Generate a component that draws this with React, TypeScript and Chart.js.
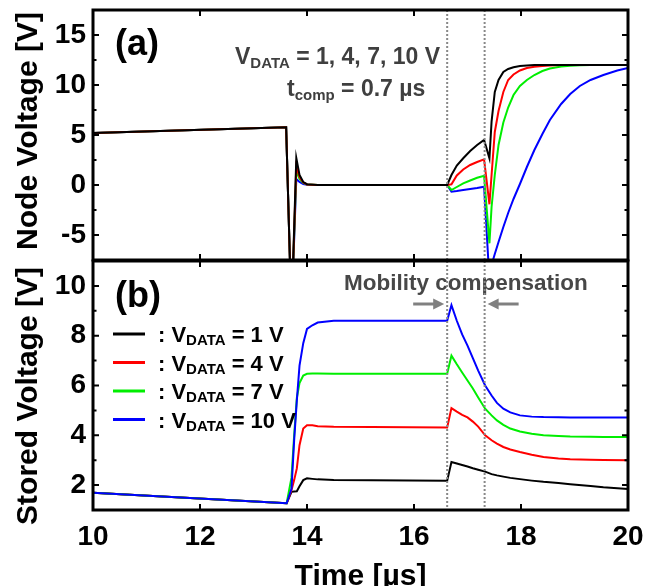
import { useEffect, useRef } from "react";
import { Chart, registerables } from "chart.js";

Chart.register(...registerables);

const FONT = '"Liberation Sans", Arial, Helvetica, sans-serif';

// ---- time axis (µs) ----
const timeTicks = [10, 12, 14, 16, 18, 20];
const compStart = 16.62; // mobility compensation window (t_comp = 0.7 µs)
const compEnd = 17.32;

// ---- (a) node voltage ----
const nodeTime = [
  10, 13.61, 13.71, 13.8, 13.86, 13.93, 14.0, 14.2, 16.62, 16.7, 16.8, 16.92,
  17.05, 17.18, 17.31, 17.41, 17.45, 17.51, 17.58, 17.67, 17.76, 17.86, 17.98,
  18.11, 18.25, 18.4, 18.54, 18.75, 18.92, 19.1, 19.3, 19.54, 19.8, 20,
];
const nodeV1 = [
  5.2, 5.77, -13, 2.7, 1.0, 0.3, 0.08, 0, 0, 1.0, 1.95, 2.67, 3.4, 4.0, 4.5,
  2.67, 6.33, 9.3, 10.5, 11.3, 11.6, 11.78, 11.9, 11.95, 12, 12, 12, 12, 12, 12,
  12, 12, 12, 12,
];
const nodeV4 = [
  5.2, 5.77, -13, 1.9, 0.8, 0.25, 0.06, 0, 0, 0.07, 0.95, 1.55, 2.0, 2.3, 2.57,
  -1.93, 1.0, 5.3, 7.4, 9.3, 10.5, 11.05, 11.45, 11.7, 11.82, 11.9, 11.95, 12,
  12, 12, 12, 12, 12, 12,
];
const nodeV7 = [
  5.2, 5.77, -13, 1.4, 0.6, 0.2, 0.05, 0, 0, -0.5, -0.2, 0.17, 0.45, 0.72, 0.93,
  -5.83, -2.2, 1.0, 4.0, 6.25, 7.75, 9.0, 9.9, 10.5, 11.0, 11.4, 11.65, 11.85,
  11.93, 11.97, 12, 12, 12, 12,
];
const nodeV10 = [
  5.2, 5.77, -13, 0.6, 0.3, 0.1, 0.03, 0, 0, -0.67, -0.6, -0.5, -0.4, -0.3,
  -0.17, -9.5, -8.0, -6.9, -5.7, -4.2, -2.8, -1.4, 0.1, 1.8, 3.5, 5.1, 6.5, 8.1,
  9.1, 9.9, 10.5, 11.0, 11.45, 11.7,
];
const nodeMajor = [-5, 0, 5, 10, 15];
const nodeMinor = [-2.5, 2.5, 7.5, 12.5];

// ---- (b) stored voltage ----
const storedTime = [
  10, 13.62, 13.71, 13.76, 13.81, 13.86, 13.93, 14.0, 14.1, 14.2, 14.5, 16.62,
  16.7, 16.8, 16.9, 17.0, 17.1, 17.2, 17.33, 17.45, 17.55, 17.67, 17.8, 17.98,
  18.2, 18.42, 18.7, 18.92, 19.3, 19.54, 20,
];
const storedV1 = [
  1.69, 1.27, 1.73, 1.74, 1.75, 1.95, 2.2, 2.27, 2.25, 2.23, 2.2, 2.17, 2.93,
  2.87, 2.81, 2.75, 2.68, 2.62, 2.54, 2.44, 2.39, 2.34, 2.29, 2.24, 2.18, 2.13,
  2.08, 2.03, 1.96, 1.91, 1.84,
];
const storedV4 = [
  1.69, 1.27, 1.8, 2.2, 2.67, 3.6, 4.27, 4.4, 4.4, 4.36, 4.34, 4.31, 5.09, 4.95,
  4.82, 4.72, 4.55, 4.35, 4.0, 3.8, 3.67, 3.53, 3.43, 3.33, 3.22, 3.13, 3.07,
  3.04, 3.02, 3.01, 3.0,
];
const storedV7 = [
  1.69, 1.27, 2.3, 4.0, 5.5, 6.1, 6.4, 6.47, 6.48, 6.48, 6.47, 6.47, 7.2, 6.85,
  6.52, 6.2, 5.88, 5.52, 5.07, 4.8, 4.6, 4.42, 4.27, 4.15, 4.06, 4.0, 3.97, 3.95,
  3.94, 3.93, 3.93,
];
const storedV10 = [
  1.69, 1.27, 1.85, 3.8, 5.4, 6.8, 7.7, 8.27, 8.42, 8.53, 8.6, 8.6, 9.23, 8.6,
  8.05, 7.6, 7.1, 6.6, 6.0, 5.6, 5.3, 5.07, 4.92, 4.8, 4.75, 4.73, 4.72, 4.71,
  4.71, 4.71, 4.71,
];
const storedMajor = [2, 4, 6, 8, 10];
const storedMinor = [3, 5, 7, 9];

// ---- series ----
const vdataLevels = [1, 4, 7, 10];
const seriesColors = ["#000000", "#ff0000", "#00ee00", "#0000ff"];
const nodeSeries = [nodeV1, nodeV4, nodeV7, nodeV10];
const storedSeries = [storedV1, storedV4, storedV7, storedV10];

type Part = { t: string; sub?: boolean };

function drawRich(
  ctx: CanvasRenderingContext2D,
  parts: Part[],
  x: number,
  y: number,
  size: number,
  subSize: number,
  subDrop: number
) {
  let cx = x;
  ctx.textAlign = "left";
  ctx.textBaseline = "alphabetic";
  for (const p of parts) {
    ctx.font = `bold ${p.sub ? subSize : size}px ${FONT}`;
    ctx.fillText(p.t, cx, p.sub ? y + subDrop : y);
    cx += ctx.measureText(p.t).width;
  }
}

function drawVerticalTitle(ctx: CanvasRenderingContext2D, text: string, x: number, y: number) {
  ctx.save();
  ctx.translate(x, y);
  ctx.rotate(-Math.PI / 2);
  ctx.font = `bold 30px ${FONT}`;
  ctx.fillStyle = "#000";
  ctx.textAlign = "center";
  ctx.textBaseline = "alphabetic";
  ctx.fillText(text, 0, 0);
  ctx.restore();
}

function framePlugin(yMajor: number[], yMinor: number[]) {
  return {
    id: "frameTicks",
    afterDraw(chart: any) {
      const { ctx, chartArea: a } = chart;
      const xs = chart.scales.x;
      const ys = chart.scales.y;
      ctx.save();
      ctx.strokeStyle = "#000";
      ctx.lineWidth = 2;
      ctx.beginPath();
      for (const t of timeTicks) {
        if (t <= xs.min || t >= xs.max) continue;
        const px = xs.getPixelForValue(t);
        ctx.moveTo(px, a.top);
        ctx.lineTo(px, a.top + 6);
        ctx.moveTo(px, a.bottom);
        ctx.lineTo(px, a.bottom - 6);
      }
      const tick = (v: number, len: number) => {
        const py = ys.getPixelForValue(v);
        ctx.moveTo(a.left, py);
        ctx.lineTo(a.left + len, py);
        ctx.moveTo(a.right, py);
        ctx.lineTo(a.right - len, py);
      };
      yMajor.forEach((v) => tick(v, 6));
      yMinor.forEach((v) => tick(v, 3.5));
      ctx.stroke();
      ctx.lineWidth = 3;
      ctx.strokeRect(a.left, a.top, a.right - a.left, a.bottom - a.top);
      ctx.restore();
    },
  };
}

const compLinesPlugin = {
  id: "compLines",
  afterDatasetsDraw(chart: any) {
    const { ctx, chartArea: a } = chart;
    const xs = chart.scales.x;
    ctx.save();
    ctx.strokeStyle = "#888888";
    ctx.lineWidth = 2;
    ctx.setLineDash([2, 2]);
    for (const t of [compStart, compEnd]) {
      const px = xs.getPixelForValue(t);
      ctx.beginPath();
      ctx.moveTo(px, a.top);
      ctx.lineTo(px, a.bottom);
      ctx.stroke();
    }
    ctx.restore();
  },
};

const panelATextPlugin = {
  id: "panelAText",
  afterDraw(chart: any) {
    const { ctx, chartArea: a } = chart;
    ctx.save();
    ctx.fillStyle = "#000";
    ctx.font = `bold 36px ${FONT}`;
    ctx.textAlign = "left";
    ctx.textBaseline = "alphabetic";
    ctx.fillText("(a)", a.left + 22, a.top + 45);

    ctx.fillStyle = "#3f3f3f";
    drawRich(
      ctx,
      [{ t: "V" }, { t: "DATA", sub: true }, { t: " = " + vdataLevels.join(", ") + " V" }],
      a.left + 142,
      a.top + 54,
      23,
      15,
      4
    );
    drawRich(
      ctx,
      [{ t: "t" }, { t: "comp", sub: true }, { t: " = 0.7 µs" }],
      a.left + 194,
      a.top + 86,
      23,
      15,
      4
    );
    drawVerticalTitle(ctx, "Node Voltage [V]", 37, a.top + 121);
    ctx.restore();
  },
};

const panelBBackPlugin = {
  id: "panelBBack",
  beforeDatasetsDraw(chart: any) {
    const { ctx, chartArea: a } = chart;
    const xs = chart.scales.x;
    ctx.save();
    ctx.fillStyle = "#474747";
    ctx.font = `bold 22.5px ${FONT}`;
    ctx.textAlign = "left";
    ctx.textBaseline = "alphabetic";
    ctx.fillText("Mobility compensation", a.left + 251, a.top + 29);

    // arrows pointing into the compensation window
    const ay = a.top + 43;
    const drawArrow = (from: number, to: number) => {
      const dir = Math.sign(to - from);
      ctx.strokeStyle = "#808080";
      ctx.fillStyle = "#808080";
      ctx.lineWidth = 3;
      ctx.beginPath();
      ctx.moveTo(from, ay);
      ctx.lineTo(to - dir * 8, ay);
      ctx.stroke();
      ctx.beginPath();
      ctx.moveTo(to, ay);
      ctx.lineTo(to - dir * 11, ay - 5.5);
      ctx.lineTo(to - dir * 11, ay + 5.5);
      ctx.closePath();
      ctx.fill();
    };
    const x0 = xs.getPixelForValue(compStart);
    const x1 = xs.getPixelForValue(compEnd);
    drawArrow(x0 - 34, x0 - 3);
    drawArrow(x1 + 34, x1 + 3);
    ctx.restore();
  },
};

const panelBTextPlugin = {
  id: "panelBText",
  afterDraw(chart: any) {
    const { ctx, chartArea: a } = chart;
    ctx.save();
    ctx.fillStyle = "#000";
    ctx.font = `bold 36px ${FONT}`;
    ctx.textAlign = "left";
    ctx.textBaseline = "alphabetic";
    ctx.fillText("(b)", a.left + 22, a.top + 46);

    // legend
    chart.data.datasets
      .slice()
      .sort((p: any, q: any) => p.legendIndex - q.legendIndex)
      .forEach((ds: any, i: number) => {
        const ry = a.top + 73 + i * 28.5;
        ctx.strokeStyle = ds.borderColor;
        ctx.lineWidth = 3;
        ctx.beginPath();
        ctx.moveTo(a.left + 20, ry);
        ctx.lineTo(a.left + 52, ry);
        ctx.stroke();
        ctx.fillStyle = "#000";
        drawRich(
          ctx,
          [{ t: ": V" }, { t: "DATA", sub: true }, { t: ` = ${ds.vdata} V` }],
          a.left + 65,
          ry + 8,
          22,
          15,
          3
        );
      });

    drawVerticalTitle(ctx, "Stored Voltage [V]", 37, a.top + 135);

    ctx.fillStyle = "#000";
    ctx.font = `bold 30px ${FONT}`;
    ctx.textAlign = "center";
    ctx.textBaseline = "alphabetic";
    ctx.fillText("Time [µs]", (a.left + a.right) / 2, a.bottom + 75);
    ctx.restore();
  },
};

function tickFont() {
  return { family: FONT, size: 28, weight: "bold" as const };
}

function noEdgePadding(s: any) {
  s.paddingTop = 0;
  s.paddingBottom = 0;
  s.paddingLeft = 0;
  s.paddingRight = 0;
}

function buildChart(
  canvas: HTMLCanvasElement,
  time: number[],
  series: number[][],
  yMin: number,
  yMax: number,
  yMajor: number[],
  topPad: number,
  xHeight: number,
  showXLabels: boolean,
  drawOrder: number[],
  plugins: any[]
) {
  return new Chart(canvas, {
    type: "line",
    data: {
      datasets: series.map((vals, i) => ({
        data: time.map((t, k) => ({ x: t, y: vals[k] })),
        borderColor: seriesColors[i],
        borderWidth: 2,
        pointRadius: 0,
        tension: 0,
        fill: false,
        clip: 0,
        order: drawOrder[i],
        legendIndex: i,
        vdata: vdataLevels[i],
      })) as any,
    },
    options: {
      animation: false,
      responsive: false,
      events: [],
      layout: { padding: { left: 0, right: 18, top: topPad, bottom: 0 } },
      plugins: { legend: { display: false }, tooltip: { enabled: false } },
      scales: {
        x: {
          type: "linear",
          min: 10,
          max: 20,
          grid: { display: false, drawTicks: false },
          border: { display: false },
          ticks: {
            display: showXLabels,
            stepSize: 2,
            autoSkip: false,
            maxRotation: 0,
            padding: 10,
            color: "#000",
            font: tickFont(),
          },
          afterFit: (s: any) => {
            s.height = xHeight;
            noEdgePadding(s);
          },
        },
        y: {
          type: "linear",
          min: yMin,
          max: yMax,
          grid: { display: false, drawTicks: false },
          border: { display: false },
          ticks: { padding: 7, color: "#000", font: tickFont() },
          afterBuildTicks: (s: any) => {
            s.ticks = yMajor.map((v) => ({ value: v }));
          },
          afterFit: (s: any) => {
            s.width = 93;
            noEdgePadding(s);
          },
        },
      },
    },
    plugins,
  });
}

export default function App() {
  const nodeRef = useRef<HTMLCanvasElement>(null);
  const storedRef = useRef<HTMLCanvasElement>(null);

  useEffect(() => {
    const top = buildChart(
      nodeRef.current!,
      nodeTime,
      nodeSeries,
      -7.5,
      17.5,
      nodeMajor,
      10,
      2,
      false,
      [1, 2, 3, 4],
      [compLinesPlugin, framePlugin(nodeMajor, nodeMinor), panelATextPlugin]
    );
    const bottom = buildChart(
      storedRef.current!,
      storedTime,
      storedSeries,
      1,
      11,
      storedMajor,
      11,
      76,
      true,
      [4, 3, 2, 1],
      [panelBBackPlugin, compLinesPlugin, framePlugin(storedMajor, storedMinor), panelBTextPlugin]
    );
    return () => {
      top.destroy();
      bottom.destroy();
    };
  }, []);

  return (
    <div
      style={{
        position: "absolute",
        left: 0,
        top: 0,
        width: 646,
        height: 586,
        background: "#fff",
        overflow: "hidden",
      }}
    >
      <canvas
        ref={nodeRef}
        width={646}
        height={262}
        style={{ position: "absolute", left: 0, top: 0 }}
      />
      <canvas
        ref={storedRef}
        width={646}
        height={336}
        style={{ position: "absolute", left: 0, top: 250 }}
      />
    </div>
  );
}
